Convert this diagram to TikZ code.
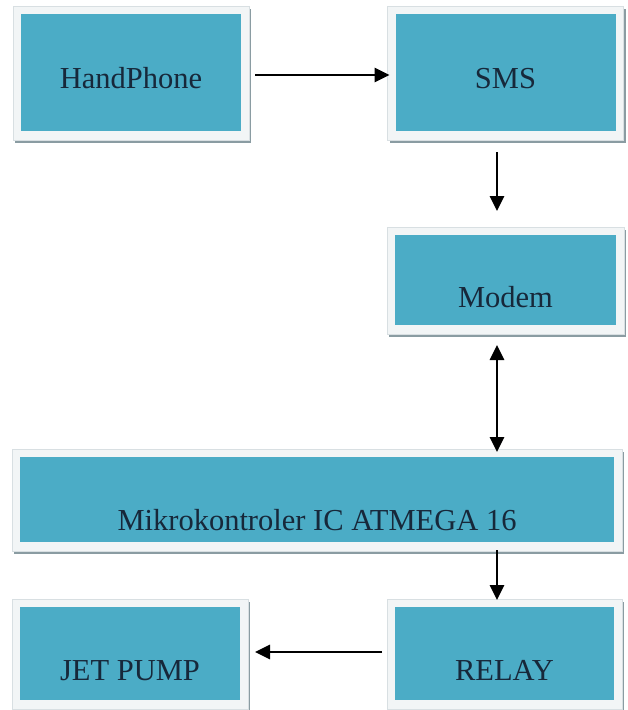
\documentclass[tikz,border=0pt]{standalone}
\usepackage{fontspec}
\setmainfont{Liberation Serif}
\usetikzlibrary{calc,arrows.meta,backgrounds}
\definecolor{teal1}{HTML}{4BACC6}
\definecolor{framec}{HTML}{F2F5F6}
\definecolor{framed}{HTML}{D8DFE2}
\definecolor{shadowc}{HTML}{8A9CA2}
\definecolor{txtc}{HTML}{17283A}
\tikzset{
 box/.style={fill=teal1, inner sep=0pt, outer sep=0pt},
 lbl/.style={text=txtc, font=\fontsize{30.5}{36}\selectfont, inner sep=0pt, anchor=base},
 arr/.style={line width=2.8pt, -{Triangle[length=15pt,width=14pt]}},
 darr/.style={line width=2.8pt, {Triangle[length=15pt,width=14pt]}-{Triangle[length=15pt,width=14pt]}},
}
\begin{document}
\begin{tikzpicture}[x=1pt,y=-1pt]
\useasboundingbox (0,0) rectangle (628,710);
\node[box, minimum width=220pt, minimum height=117pt] (hp) at (131,72.5) {};
\node[box, minimum width=220pt, minimum height=117pt] (sms) at (505.5,72.5) {};
\node[box, minimum width=221pt, minimum height=90pt] (modem) at (505.5,280) {};
\node[box, minimum width=594pt, minimum height=85pt] (mcu) at (317,499.5) {};
\node[box, minimum width=220pt, minimum height=93pt] (pump) at (130,653.5) {};
\node[box, minimum width=219pt, minimum height=93pt] (relay) at (504.5,653.5) {};
\begin{scope}[on background layer]
\fill[white] (0,0) rectangle (628,710);
\foreach \n in {hp,sms,modem,mcu,pump,relay}{
 \fill[shadowc] ($(\n.north west)+(-6,-5)$) rectangle ($(\n.south east)+(10,12)$);
 \filldraw[fill=framec, draw=framed, line width=0.6pt] ($(\n.north west)+(-8,-8)$) rectangle ($(\n.south east)+(8,9)$);
}
\end{scope}
\node[lbl] (hpT) at (131,88) {HandPhone};
\node[lbl] (smsT) at (505.5,88) {SMS};
\node[lbl] (modemT) at (505.5,307) {Modem};
\node[lbl] (mcuT) at (317,530) {Mikrokontroler IC ATMEGA 16};
\node[lbl] (pumpT) at (130,680) {JET PUMP};
\node[lbl] (relayT) at (504.5,680) {RELAY};
\draw[arr] ($(hp.east)+(14,2.5)$) -- ($(sms.west)+(-6,2.5)$);
\draw[arr] ($(sms.south)+(-8.5,21)$) -- ($(modem.north)+(-8.5,-24)$);
\draw[darr] ($(modem.south)+(-8.5,20)$) -- ($(mcu.north)+(180,-5)$);
\draw[arr] ($(mcu.south)+(180,8)$) -- ($(relay.north)+(-7.5,-7)$);
\draw[arr] ($(relay.west)+(-13,-1.5)$) -- ($(pump.east)+(15,-1.5)$);
\end{tikzpicture}
\end{document}
